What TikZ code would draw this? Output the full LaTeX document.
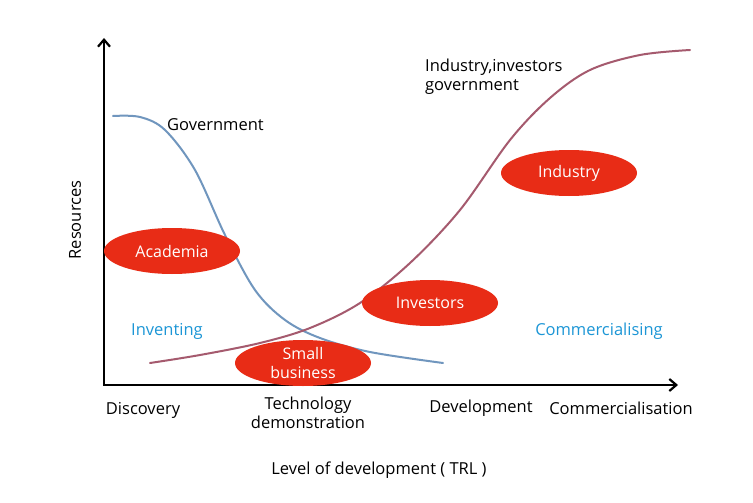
\documentclass[tikz,border=0pt]{standalone}
\usepackage{fontspec}
\setmainfont{Open Sans}
\usetikzlibrary{shapes.geometric,arrows.meta}
\definecolor{blobred}{RGB}{232,44,22}
\definecolor{govblue}{RGB}{112,150,190}
\definecolor{indred}{RGB}{165,90,110}
\definecolor{phaseblue}{RGB}{28,150,214}
\tikzset{
  blob/.style={ellipse,fill=blobred,draw=none,minimum width=136pt,minimum height=46pt,inner sep=0pt,text=white,font=\fontsize{16}{19}\selectfont,align=center},
  lbl/.style={font=\fontsize{16.5}{19}\selectfont,inner sep=0pt,align=center},
  phase/.style={lbl,text=phaseblue},
  axis/.style={line width=2.2pt,-{Straight Barb[length=7pt,width=12pt,line width=2.2pt]}},
  curve/.style={line width=2pt,line cap=round}
}
\begin{document}
\begin{tikzpicture}[x=1pt,y=-1pt]
\useasboundingbox (0,0) rectangle (753,503);
\fill[white] (0,0) rectangle (753,503);
% curves
\draw[curve,govblue] plot[smooth,tension=0.55] coordinates {(113,116) (140,117) (165,130) (195,170) (225,235) (255,290) (285,320) (320,338) (370,352) (443,363)};
\draw[curve,indred] plot[smooth,tension=0.55] coordinates {(150,363) (200,355) (260,343) (310,328) (360,303) (410,263) (460,210) (510,140) (550,98) (590,70) (640,55) (690,50)};
% axes
\coordinate (o) at (104,385);
\coordinate (ytip) at (104,38);
\coordinate (xtip) at (678,385);
\draw[axis] (o) -- (ytip);
\draw[axis] ([xshift=-1.1pt]o) -- (xtip);
% blobs
\node[blob] (acad) at (172,251) {Academia};
\node[blob] (small) at (303,363) {Small\\business};
\node[blob] (inv) at (430,303) {Investors};
\node[blob] (ind) at (569,173) {Industry};
% labels
\node[lbl,anchor=west] (gov) at (167,125) {Government};
\node[lbl,anchor=west,align=left] (iig) at (425,77) {Industry,investors\\government};
\node[phase] (inventing) at (167,331) {Inventing};
\node[phase] (comm) at (599,331) {Commercialising};
\node[lbl] (disc) at (143,410) {Discovery};
\node[lbl] (tech) at (308,413) {Technology\\demonstration};
\node[lbl] (dev) at (481,408) {Development};
\node[lbl] (commz) at (621,408) {Commercialisation};
\node[lbl] (xlab) at (379,470) {Level of development ( TRL )};
\node[lbl,rotate=90] (ylab) at (75,220) {Resources};
\end{tikzpicture}
\end{document}
